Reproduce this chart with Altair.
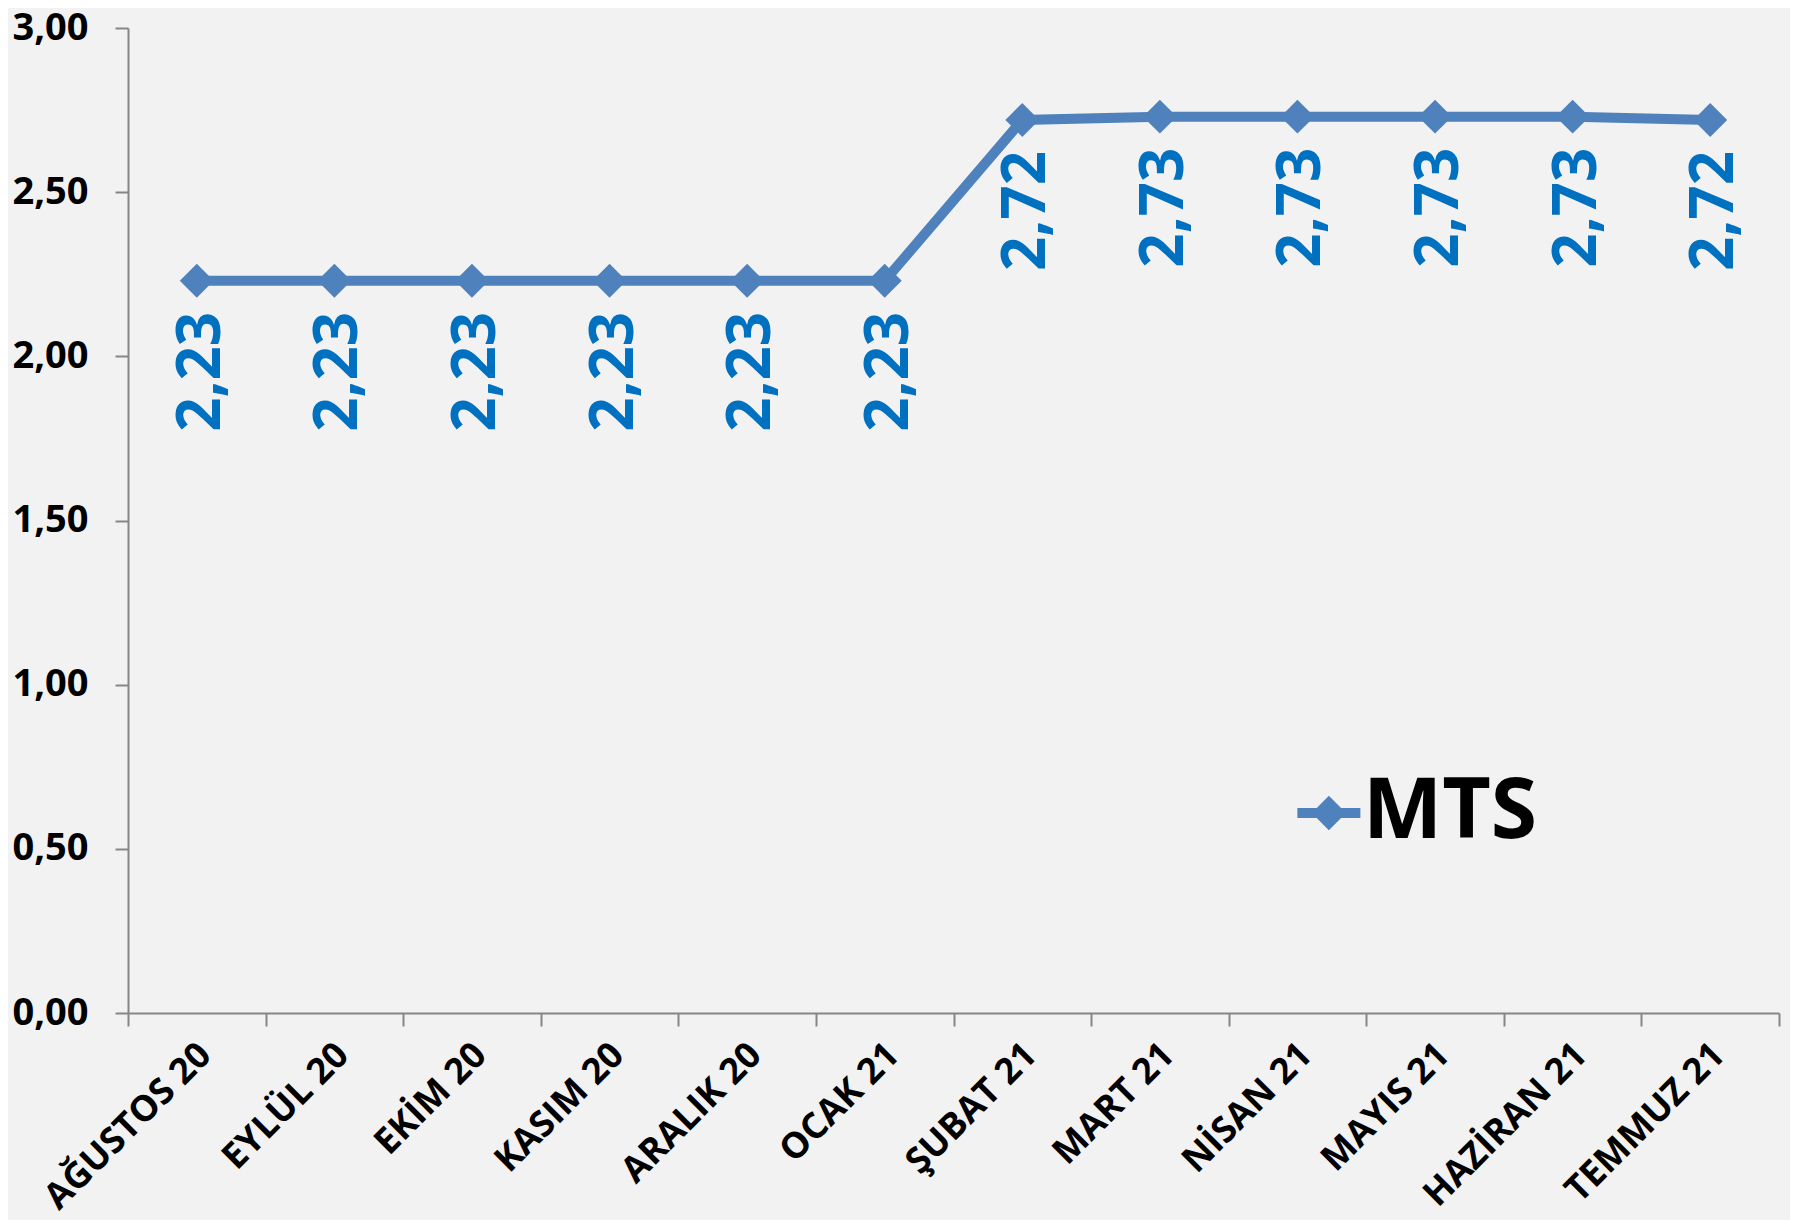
import altair as alt
import pandas as pd

months = ["AĞUSTOS 20", "EYLÜL 20", "EKİM 20", "KASIM 20", "ARALIK 20", "OCAK 21",
          "ŞUBAT 21", "MART 21", "NİSAN 21", "MAYIS 21", "HAZİRAN 21", "TEMMUZ 21"]
values = [2.23, 2.23, 2.23, 2.23, 2.23, 2.23, 2.72, 2.73, 2.73, 2.73, 2.73, 2.72]
y_ticks = [0.0, 0.5, 1.0, 1.5, 2.0, 2.5, 3.0]
series_name = "MTS"

df = pd.DataFrame({
    "idx": list(range(len(months))),
    "month": months,
    "value": values,
    "series": [series_name] * len(months),
})

edges = [i - 0.5 for i in range(len(months) + 1)]
month_js = "[" + ",".join("'" + m + "'" for m in months) + "]"
x_label_expr = month_js + "[round(datum.value + 0.5)] || ''"
comma_expr = "replace(format(datum.value, '.2f'), '.', ',')"

LINE = "#4F81BD"
LABEL = "#0070C0"
AXIS = "#868686"
FONT = "Open Sans"

W, H = 1651, 985
band = W / len(months)

x_enc = alt.X(
    "idx:Q",
    scale=alt.Scale(domain=[edges[0], edges[-1]], nice=False, zero=False),
    axis=alt.Axis(
        values=edges, labelExpr=x_label_expr, title=None, grid=False,
        labelAngle=315, labelAlign="right", labelBaseline="top",
        labelOffset=band / 2 - 4, labelPadding=11, labelOverlap=False, labelFlush=False,
        labelLimit=0,
        labelFont=FONT, labelFontSize=36, labelFontWeight="bold", labelColor="black",
        tickSize=13, tickColor=AXIS, tickWidth=2, domainColor=AXIS, domainWidth=2,
    ),
)
y_enc = alt.Y(
    "value:Q",
    scale=alt.Scale(domain=[0, 3], nice=False, zero=True),
    axis=alt.Axis(
        values=y_ticks, labelExpr=comma_expr, title=None, grid=False,
        labelFlush=False, labelOverlap=False, labelPadding=27,
        labelFont=FONT, labelFontSize=38, labelFontWeight="bold", labelColor="black",
        tickSize=13, tickColor=AXIS, tickWidth=2, domainColor=AXIS, domainWidth=2,
    ),
)

legend_symbol = "M-0.75,0L1.25,0M-0.07,0L0.25,-0.32L0.57,0L0.25,0.32Z"

line = alt.Chart(df).mark_line(
    strokeWidth=10,
    point=alt.OverlayMarkDef(shape="diamond", size=1150, filled=True, color=LINE),
).encode(
    x=x_enc,
    y=y_enc,
    color=alt.Color(
        "series:N",
        scale=alt.Scale(range=[LINE]),
        legend=alt.Legend(
            title=None, orient="none", legendX=1151, legendY=743, padding=0,
            symbolType=legend_symbol, symbolSize=3969, symbolStrokeWidth=10,
            symbolFillColor=LINE, symbolStrokeColor=LINE,
            labelFont=FONT, labelFontSize=84, labelFontWeight="bold",
            labelColor="black", labelOffset=0, labelLimit=0,
        ),
    ),
)

text = alt.Chart(df).transform_calculate(
    label=comma_expr
).mark_text(
    angle=270, align="right", baseline="middle", dx=-31, dy=5,
    font=FONT, fontSize=60, fontWeight="bold", color=LABEL,
).encode(
    x="idx:Q",
    y="value:Q",
    text="label:N",
)

chart = alt.layer(line, text).properties(
    width=W, height=H,
    autosize=alt.AutoSizeParams(type="none"),
    padding={"left": 120, "top": 20, "right": 11, "bottom": 207},
).configure(
    background="#F2F2F2",
).configure_view(
    stroke=None,
)

chart.save("out.html", embed_options={"renderer": "svg", "actions": False})
